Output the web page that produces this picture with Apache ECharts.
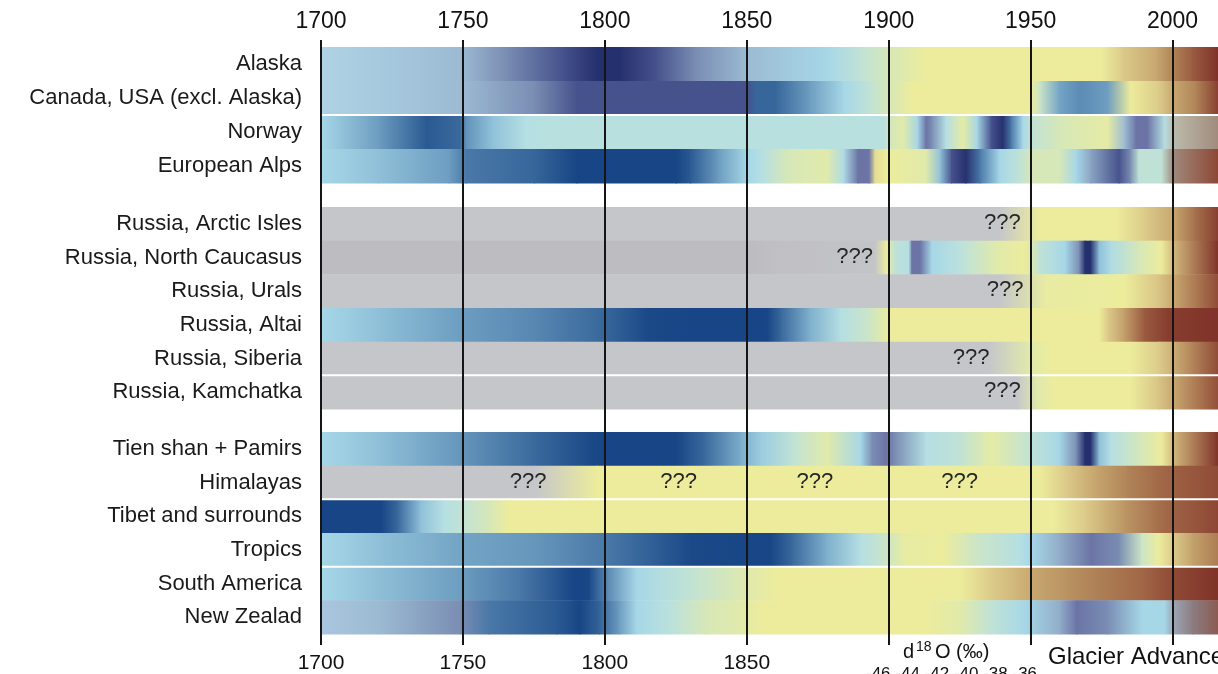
<!DOCTYPE html>
<html><head><meta charset="utf-8">
<script src="https://cdn.jsdelivr.net/npm/echarts@6/dist/echarts.min.js"></script>
<style>html,body{margin:0;padding:0;background:#fff;}#c{width:1218px;height:674px;}</style>
</head><body><div id="c"></div>
<script>
// ---------- DATA ----------
const yearTicks = [1700, 1750, 1800, 1850, 1900, 1950, 2000];
const groupNorth = ['Alaska', 'Canada, USA (excl. Alaska)', 'Norway', 'European Alps'];
const groupRussia = ['Russia, Arctic Isles', 'Russia, North Caucasus', 'Russia, Urals', 'Russia, Altai', 'Russia, Siberia', 'Russia, Kamchatka'];
const groupSouth = ['Tien shan + Pamirs', 'Himalayas', 'Tibet and surrounds', 'Tropics', 'South America', 'New Zealad'];

// colour classes (glacier state scale: 0 = strong retreat ... 15 = strong advance, 20/21 = no data)
const PALETTE = ['#7f3228','#9a5a40','#b08458','#c8a870','#dccb8a','#ecec9c','#d6e7b8','#c0e2d6','#b5dfe3','#a6d7e7',
  '#8fc0d8','#6d9dc0','#4a78a8','#2a5a92','#174585','#25306e','#9cbbd3','#7a8db3','#6b74a5','#46528c',
  '#c5c6ca','#bdbcc0','#afd3e5','#a08a7c','#bcbcac','#a9c6de','#8c7c80','#8a5a50','#9ca8b8'];

// keyframes [year, colour class]
const alaska = [[1700,22],[1749,16],[1765,17],[1785,19],[1797,15],[1805,15],[1818,19],[1832,17],[1850,16],[1878,9],[1890,7],[1900,6],[1913,5],[1975,5],[1982,4],[1994,3],[2000,2],[2007,1],[2016,0]];
const canada = [[1700,22],[1749,16],[1775,17],[1790,19],[1850,19],[1853,12.6],[1860,12.6],[1872,11],[1884,9],[1893,7],[1900,6],[1908,5],[1950,5],[1953,6.5],[1960,10.8],[1967,11.5],[1977,11],[1985,5],[1995,4],[2000,3],[2008,2],[2016,0.3]];
const norway = [[1700,9],[1720,11],[1737,13],[1749,12.5],[1751,11.3],[1760,10],[1772,8],[1780,7.7],[1898,7.7],[1901,6],[1905,5.5],[1910,9],[1913,18],[1915,17],[1920,8],[1926,5.3],[1931,9],[1936,19],[1940,15],[1943,12],[1947,9],[1950,7],[1960,6],[1977,5.3],[1983,16],[1987,18],[1991,18],[1997,8],[2000,24],[2016,23]];
const alps = [[1700,9],[1720,10],[1745,11],[1751,12],[1775,12.6],[1790,14],[1825,14],[1830,13],[1840,11],[1850,9],[1855,8],[1864,6],[1878,5.5],[1884,8.5],[1889,18],[1893,18],[1895,4.5],[1899,5],[1913,5.5],[1918,10],[1922,19],[1927,15],[1932,12],[1939,9],[1946,7],[1950,6],[1960,6],[1966,9],[1971,16.5],[1981,19],[1985,17],[1988,7],[1996,7],[2000,23],[2016,0.5]];
const arctic = [[1700,20],[1939,20],[1953,5],[1980,5],[1990,4],[2000,3],[2008,1.5],[2016,0.3]];
const caucasus = [[1700,21],[1852,21],[1860,20.6],[1895,20.2],[1899,5],[1902,7],[1907,8],[1908,18],[1911,18],[1915,9],[1925,7.5],[1938,5.5],[1948,5],[1953,7],[1962,9],[1967,17],[1969,15],[1971,15],[1974,10],[1978,8.5],[1988,6],[1996,5],[2000,3.5],[2016,0]];
const urals = [[1700,20],[1939,20],[1955,5.2],[1983,5],[1995,3.8],[2000,3],[2016,0.6]];
const altai = [[1700,9],[1720,10],[1749,11],[1775,11.6],[1800,12.6],[1815,13.8],[1830,14],[1857,14],[1862,12.5],[1872,10.5],[1883,8],[1893,6.5],[1900,5],[1974,5],[1977,4],[1983,2.7],[1990,1],[1998,0.3],[2016,0]];
const siberia = [[1700,20],[1935,20],[1950,5.5],[1957,5],[1985,5],[1995,4],[2000,3.2],[2016,0.6]];
const kamchatka = [[1700,20],[1945,20],[1952,5.6],[1958,5],[1985,5],[1995,3.8],[2000,3],[2016,0.7]];
const tienshan = [[1700,9],[1720,10],[1749,11.2],[1775,12.5],[1795,13.8],[1800,14],[1825,14],[1835,12.5],[1848,10.5],[1855,9.5],[1866,7],[1878,5.5],[1890,9],[1894,17],[1899,18],[1902,17],[1913,8],[1925,7],[1936,5.3],[1950,7],[1960,9],[1966,17],[1969,15],[1971,15],[1974,10],[1978,8],[1989,6],[1996,5],[2000,3.5],[2016,0]];
const himalayas = [[1700,20],[1775,20],[1797,5],[1953,5],[1962,4],[1972,3],[1984,2],[1996,1.3],[2016,0.6]];
const tibet = [[1700,14],[1721,14],[1727,12.5],[1735,10],[1743,8],[1749,7],[1759,6],[1766,5],[1958,5],[1969,4],[1983,2.5],[1995,1.5],[2000,1.2],[2016,0.5]];
const tropics = [[1700,9],[1720,10],[1749,10.8],[1775,11.2],[1800,12],[1820,13],[1830,13.8],[1858,14],[1866,12.5],[1878,10.5],[1890,8],[1899,6.5],[1905,5.3],[1919,5],[1931,6.5],[1946,8],[1950,9],[1960,16.3],[1971,18],[1981,17],[1989,6.5],[1995,5],[2000,4],[2007,2.8],[2016,1.8]];
const southAmerica = [[1700,9],[1749,11],[1770,12],[1789,14],[1794,14],[1801,11.5],[1811,9],[1829,7],[1850,5.6],[1860,5],[1925,5],[1936,4],[1950,3],[1971,2],[1989,1.3],[2000,0.6],[2016,0]];
const newZealand = [[1700,25],[1720,16],[1749,17],[1759,12],[1783,13],[1791,14],[1798,12.7],[1805,11],[1811,9],[1823,7.5],[1835,6],[1848,5.5],[1855,5],[1913,5],[1925,5.5],[1936,7],[1948,9],[1960,16.3],[1966,18],[1977,17],[1989,9],[1997,9],[2000,28],[2007,26],[2016,27]];

const rowSeries = {
  'Alaska': alaska, 'Canada, USA (excl. Alaska)': canada, 'Norway': norway, 'European Alps': alps,
  'Russia, Arctic Isles': arctic, 'Russia, North Caucasus': caucasus, 'Russia, Urals': urals,
  'Russia, Altai': altai, 'Russia, Siberia': siberia, 'Russia, Kamchatka': kamchatka,
  'Tien shan + Pamirs': tienshan, 'Himalayas': himalayas, 'Tibet and surrounds': tibet,
  'Tropics': tropics, 'South America': southAmerica, 'New Zealad': newZealand
};
const separatorRows = ['Norway', 'Russia, Kamchatka', 'Tibet and surrounds', 'South America'];
const unknownMarks = [['Russia, Arctic Isles',1940],['Russia, North Caucasus',1888],['Russia, Urals',1941],['Russia, Siberia',1929],['Russia, Kamchatka',1940],['Himalayas',1773],['Himalayas',1826],['Himalayas',1874],['Himalayas',1925]];
const legendTicks = ['-46', '-44', '-42', '-40', '-38', '-36'];

// ---------- RENDER ----------
const FONT = "'Liberation Sans', Arial, Helvetica, sans-serif";
const groups = [groupNorth, groupRussia, groupSouth];
function hex(h){return [parseInt(h.slice(1,3),16),parseInt(h.slice(3,5),16),parseInt(h.slice(5,7),16)];}
function colorAt(v){
  const i = Math.floor(v), f = v - i;
  if (f < 1e-6 || i + 1 >= PALETTE.length) return PALETTE[i];
  const a = hex(PALETTE[i]), b = hex(PALETTE[i+1]);
  return 'rgb(' + a.map((x,k)=>Math.round(x + (b[k]-x)*f)).join(',') + ')';
}
const gridDefs = [
  {left:321, right:0, top:47, height:136},
  {left:321, right:0, top:207, height:202},
  {left:321, right:0, top:432, height:202},
  {left:321, right:0, top:40, bottom:29}
];
const series = [];
groups.forEach((names, g) => {
  const segs = [];
  names.forEach((name, r) => {
    const k = rowSeries[name];
    for (let j = 0; j < k.length - 1; j++) segs.push([k[j][0], k[j+1][0], r, k[j][1], k[j+1][1]]);
  });
  series.push({
    type:'custom', xAxisIndex:g, yAxisIndex:g, silent:true, z:2, data:segs,
    encode:{x:[0,1], y:2},
    renderItem:(params, api) => {
      const r = api.value(2);
      const p0 = api.coord([api.value(0), r]), p1 = api.coord([api.value(1), r]);
      const h = api.size([0,1])[1];
      return {type:'rect', shape:{x:p0[0], y:p0[1]-h/2, width:p1[0]-p0[0]+1, height:h+0.5},
        style:{fill:new echarts.graphic.LinearGradient(0,0,1,0,[{offset:0,color:colorAt(api.value(3))},{offset:1,color:colorAt(api.value(4))}])}};
    }
  });
  const seps = names.map((n, r) => separatorRows.includes(n) ? [1700, r] : null).filter(Boolean);
  if (seps.length) series.push({
    type:'custom', xAxisIndex:g, yAxisIndex:g, silent:true, z:3, data:seps, encode:{x:0, y:1},
    renderItem:(params, api) => {
      const r = api.value(1);
      const p0 = api.coord([1700, r]), p1 = api.coord([2016, r]);
      const h = api.size([0,1])[1];
      return {type:'rect', shape:{x:p0[0], y:p0[1]-h/2-1, width:p1[0]-p0[0]+2, height:2}, style:{fill:'#ffffff'}};
    }
  });
  const marks = unknownMarks.filter(m => names.includes(m[0])).map(m => [m[1], names.indexOf(m[0])]);
  if (marks.length) series.push({
    type:'custom', xAxisIndex:g, yAxisIndex:g, silent:true, z:5, data:marks, encode:{x:0, y:1},
    renderItem:(params, api) => {
      const p = api.coord([api.value(0), api.value(1)]);
      return {type:'text', style:{text:'???', x:p[0], y:p[1]-1, fill:'#262626', font:'22px ' + FONT, align:'center', verticalAlign:'middle'}};
    }
  });
});

const xAxes = [0,1,2].map(i => ({gridIndex:i, type:'value', min:1700, max:2016, show:false}));
xAxes.push({gridIndex:3, type:'value', position:'top', min:1700, max:2016, interval:50, z:10,
  axisLine:{show:false}, axisTick:{show:false},
  splitLine:{show:true, showMaxLine:false, lineStyle:{color:'#151515', width:2}},
  axisLabel:{fontSize:23, color:'#111', fontFamily:FONT, margin:7, showMaxLabel:false,
    formatter:v => yearTicks.includes(v) ? String(v) : ''}});
xAxes.push({gridIndex:3, type:'value', position:'bottom', min:1700, max:2016, interval:50,
  axisLine:{show:false}, axisTick:{show:false}, splitLine:{show:false},
  axisLabel:{fontSize:21, color:'#111', fontFamily:FONT, margin:8, showMaxLabel:false,
    formatter:v => (yearTicks.includes(v) && v <= 1850) ? String(v) : ''}});
const yAxes = groups.map((names, i) => ({gridIndex:i, type:'category', data:names, inverse:true,
  axisLine:{show:false}, axisTick:{show:false}, splitLine:{show:false},
  axisLabel:{fontSize:22, color:'#1a1a1a', fontFamily:FONT, margin:19}}));
yAxes.push({gridIndex:3, type:'value', show:false});

const chart = echarts.init(document.getElementById('c'), null, {renderer:'canvas'});
chart.setOption({
  backgroundColor:'#ffffff', animation:false,
  grid:gridDefs, xAxis:xAxes, yAxis:yAxes, series:series,
  graphic:[
    {type:'text', left:903, top:642, silent:true, style:{text:'d', font:'20px ' + FONT, fill:'#111'}},
    {type:'text', left:916, top:640, silent:true, style:{text:'18', font:'14px ' + FONT, fill:'#111'}},
    {type:'text', left:935, top:642, silent:true, style:{text:'O (‰)', font:'20px ' + FONT, fill:'#111'}},
    {type:'text', left:866, top:666, silent:true, style:{text:legendTicks.join(' '), font:'17px ' + FONT, fill:'#111'}},
    {type:'text', left:1048, top:645, silent:true, style:{text:'Glacier Advance', font:'24px ' + FONT, fill:'#111'}}
  ]
});
</script></body></html>
